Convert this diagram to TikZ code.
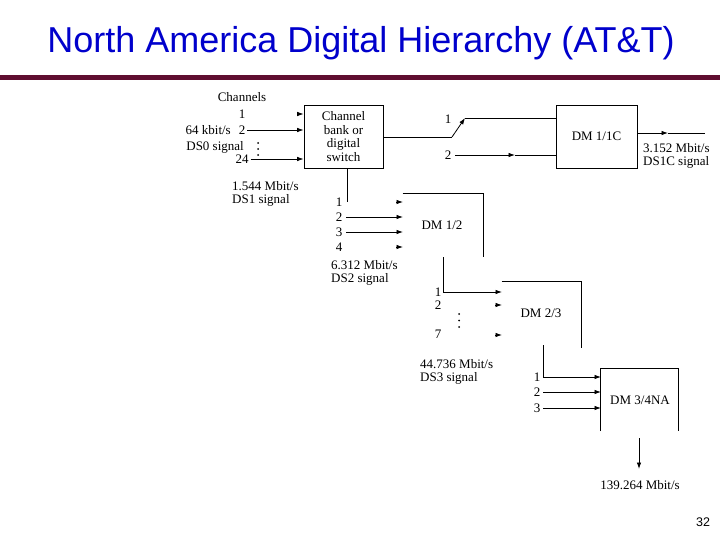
\documentclass[tikz,border=0pt]{standalone}
\usepackage{fontspec}
\setmainfont{Liberation Serif}
\newfontfamily\arialf{Liberation Sans}
\usetikzlibrary{arrows.meta}
\definecolor{titleblue}{RGB}{0,0,204}
\definecolor{barred}{RGB}{96,14,48}
\begin{document}
\begin{tikzpicture}[x=1pt,y=-1pt,
  lbl/.style={font=\fontsize{13}{13}\selectfont, inner sep=0pt},
  lblL/.style={lbl, anchor=west},
  ln/.style={line width=0.8pt},
  arr/.style={ln, -{Latex[length=6.5pt,width=4.5pt]}},
  boxed/.style={draw, ln, inner sep=0pt, font=\fontsize{13}{13.5}\selectfont, align=center},
  dot/.style={fill, circle, inner sep=0pt, minimum size=2pt}]
\useasboundingbox (0,0) rectangle (720,540);
% title and bar
\node[font=\arialf\fontsize{36}{36}\selectfont, text=titleblue, inner sep=0pt] (title) at (361,43) {North America Digital Hierarchy (AT\&T)};
\fill[barred] (0,75.5) rectangle (720,80.5);
\node[font=\arialf\fontsize{12.5}{12.5}\selectfont, inner sep=0pt] (pg) at (703,522) {32};

% channel bank
\node[boxed, minimum width=79pt, minimum height=63pt] (bank) at (343.5,136.5) {Channel\\bank or\\digital\\switch};
\node[lbl] (chs) at (242,97) {Channels};
\node[lbl] (c1) at (242,114) {1};
\node[lbl] (c2) at (242,130) {2};
\node[lbl, anchor=east] (k64) at (231,130) {64 kbit/s};
\node[lbl, anchor=east] (ds0) at (244,147) {DS0 signal};
\node[lbl] (c24) at (242,159) {24};
\coordinate (c1a) at (297,114);
\draw[arr] (c1a) -- (c1a -| bank.west);
\draw[arr] (c2.east) ++(2,0) -- (c2 -| bank.west);
\draw[arr] (c24.east) ++(2,0) -- (c24 -| bank.west);
\node[dot] (d1) at (258,143) {};
\node[dot] (d2) at (258,149) {};
\node[dot] (d3) at (258,155) {};

% switch and DM 1/1C
\node[boxed, minimum width=81pt, minimum height=63pt] (dm11c) at (596.5,136.5) {DM 1/1C};
\coordinate (piv) at (452,137);
\coordinate (sw1) at (465,118);
\draw[ln] (bank.east |- piv) -- (piv);
\draw[arr] (piv) -- (sw1);
\draw[ln] (sw1) -- (sw1 -| dm11c.west);
\node[lbl] (s1) at (448,119) {1};
\node[lbl] (s2) at (448,155) {2};
\coordinate (s2m) at (515,155);
\draw[arr] (s2.east) ++(4,0) -- (s2m);
\draw[ln] (s2m) -- (s2m -| dm11c.west);
\coordinate (o11m) at (668,133);
\coordinate (o11e) at (705,133);
\draw[arr] (dm11c.east |- o11m) -- (o11m);
\draw[ln] (o11m) -- (o11e);
\node[lblL] (r1c) at (643,148) {3.152 Mbit/s};
\node[lblL] (r1cs) at (643,162) {DS1C signal};

% DS1 link
\coordinate (bb) at (347,202);
\draw[ln] (bank.south -| bb) -- (bb);
\node[lblL] (r1) at (232,186) {1.544 Mbit/s};
\node[lblL] (r1s) at (232,200) {DS1 signal};

% DM 1/2
\coordinate (dm12tl) at (402.5,193);
\coordinate (dm12tr) at (483,193);
\coordinate (dm12br) at (483,257);
\draw[ln] (dm12tl) -- (dm12tr) -- (dm12br);
\node[lbl] (dm12) at (442,225) {DM 1/2};
\node[lbl] (m1) at (339,202) {1};
\node[lbl] (m2) at (339,217) {2};
\node[lbl] (m3) at (339,232) {3};
\node[lbl] (m4) at (339,247) {4};
\draw[arr] (396,202) -- (403,202);
\draw[arr] (346,217) -- (403,217);
\draw[arr] (346,232) -- (403,232);
\draw[arr] (396,247) -- (403,247);
\node[lblL] (r2) at (331,265) {6.312 Mbit/s};
\node[lblL] (r2s) at (331,279) {DS2 signal};

% DM 2/3
\coordinate (dm23tl) at (501.5,281);
\coordinate (dm23tr) at (581,281);
\coordinate (dm23br) at (581,348);
\draw[ln] (dm23tl) -- (dm23tr) -- (dm23br);
\node[lbl] (dm23) at (541,313) {DM 2/3};
\coordinate (v2) at (443,257);
\draw[arr] (v2) -- (443,292) -- (502,292);
\node[lbl] (n1) at (438,292) {1};
\node[lbl] (n2) at (438,305) {2};
\node[lbl] (n7) at (438,334) {7};
\draw[arr] (495,305) -- (502,305);
\draw[arr] (495,335) -- (502,335);
\node[dot] (e1) at (459,314) {};
\node[dot] (e2) at (459,320.5) {};
\node[dot] (e3) at (459,327) {};
\node[lblL] (r3) at (420,364) {44.736 Mbit/s};
\node[lblL] (r3s) at (420,378) {DS3 signal};

% DM 3/4NA
\draw[ln] (600,431) -- (600,368) -- (678,368) -- (678,431);
\node[lbl] (dm34) at (640,400) {DM 3/4NA};
\draw[arr] (543,345) -- (543,377) -- (601,377);
\node[lbl] (p1) at (537,377) {1};
\node[lbl] (p2) at (537,392) {2};
\node[lbl] (p3) at (537,408) {3};
\draw[arr] (543,392) -- (601,392);
\draw[arr] (543,408) -- (601,408);
\coordinate (o4s) at (639,438);
\coordinate (o4e) at (639,469);
\draw[arr] (o4s) -- (o4e);
\node[lbl] (r4) at (640,485) {139.264 Mbit/s};
\end{tikzpicture}
\end{document}
